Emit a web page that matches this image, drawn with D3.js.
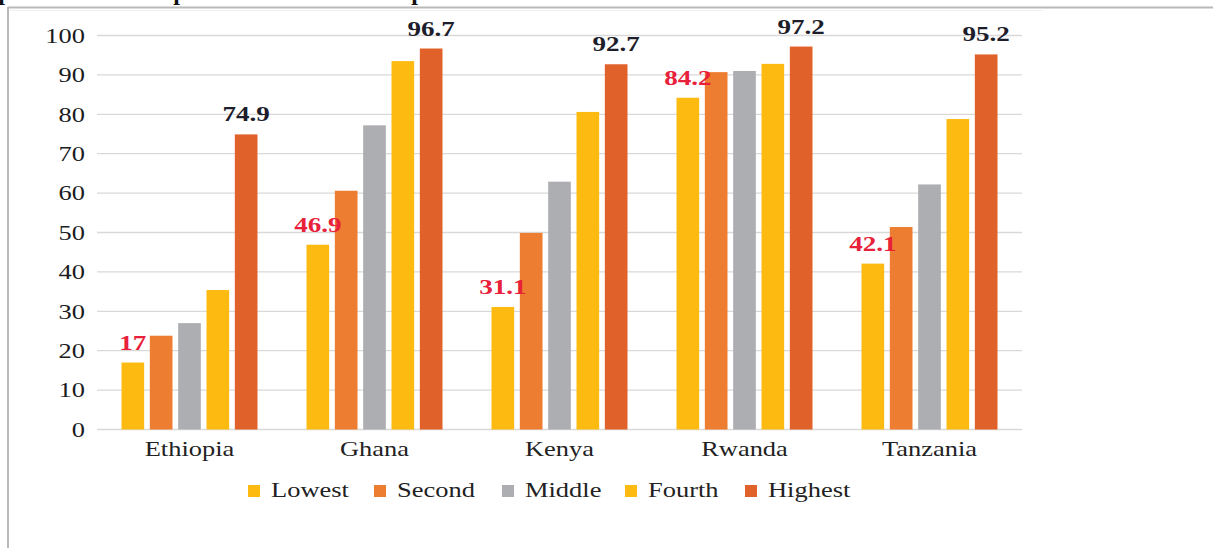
<!DOCTYPE html>
<html>
<head>
<meta charset="utf-8">
<script src="https://cdn.jsdelivr.net/npm/d3@7"></script>
<style>
  html, body { margin: 0; padding: 0; background: #fff; }
  svg { display: block; }
  text { font-family: "Liberation Serif", "Times New Roman", serif; }
</style>
</head>
<body>
<svg id="chart" width="1213" height="548"></svg>
<script>
// ---- data ----
const categories = ["Ethiopia", "Ghana", "Kenya", "Rwanda", "Tanzania"];
const seriesNames = ["Lowest", "Second", "Middle", "Fourth", "Highest"];
const lowest  = [17, 46.9, 31.1, 84.2, 42.1];
const second  = [23.8, 60.6, 49.9, 90.7, 51.4];
const middle  = [27.0, 77.2, 62.9, 91.0, 62.2];
const fourth  = [35.4, 93.5, 80.6, 92.8, 78.8];
const highest = [74.9, 96.7, 92.7, 97.2, 95.2];
const yTicks  = [0, 10, 20, 30, 40, 50, 60, 70, 80, 90, 100];
const seriesColors = ["#FDBB12", "#ED7D31", "#ADAEB1", "#FDBB12", "#E0622A"];

const seriesValues = [lowest, second, middle, fourth, highest];
const SX = 1.26; // horizontal stretch of the reference text

const svg = d3.select("#chart");

// frame around the picture
svg.append("line").attr("x1", 8).attr("x2", 1213).attr("y1", 7.5).attr("y2", 7.5)
  .attr("stroke", "#b9b9b9").attr("stroke-width", 2);
svg.append("line").attr("x1", 8).attr("x2", 8).attr("y1", 7).attr("y2", 548)
  .attr("stroke", "#b9b9b9").attr("stroke-width", 2);
svg.append("line").attr("x1", 10).attr("x2", 1043).attr("y1", 10.5).attr("y2", 10.5)
  .attr("stroke", "#f0f0f0").attr("stroke-width", 1);

// cut-off text fragments at the very top
[["p", 5], ["p", 180], ["p", 418]].forEach(([t, x]) => {
  svg.append("text").attr("x", x).attr("y", -0.5).attr("text-anchor", "middle")
    .attr("font-size", 24).attr("font-weight", "bold").attr("fill", "#111").text(t);
});

// scales
const x0 = d3.scaleBand().domain(categories).range([97, 1022]).padding(0);
const x1 = d3.scaleBand().domain(seriesNames)
  .range([24.5, x0.bandwidth() - 24.5]).paddingInner(0.2).paddingOuter(0);
const y = d3.scaleLinear().domain([0, 100]).range([429.5, 35.5]);

// gridlines
svg.append("g").selectAll("line").data(yTicks).join("line")
  .attr("x1", 97).attr("x2", 1022)
  .attr("y1", d => y(d)).attr("y2", d => y(d))
  .attr("stroke", "#d9d9d9").attr("stroke-width", 1.3);

// y tick labels
svg.append("g").selectAll("text").data(yTicks).join("text")
  .attr("transform", d => `translate(85,${y(d)}) scale(${SX},1)`)
  .attr("text-anchor", "end").attr("dy", "0.35em")
  .attr("font-size", 21).attr("fill", "#1b1b22")
  .text(d => d);

// bars
const groups = svg.append("g").selectAll("g").data(categories).join("g")
  .attr("transform", d => `translate(${x0(d)},0)`);
groups.selectAll("rect")
  .data((c, ci) => seriesNames.map((s, si) => ({ s, si, v: seriesValues[si][ci] })))
  .join("rect")
  .attr("x", d => x1(d.s))
  .attr("width", x1.bandwidth())
  .attr("y", d => y(d.v))
  .attr("height", d => y(0) - y(d.v))
  .attr("fill", d => seriesColors[d.si]);

// value labels (lowest in red, highest in dark)
groups.each(function (c, ci) {
  const g = d3.select(this);
  [[0, "#E8203A"], [4, "#1d1d2b"]].forEach(([si, col]) => {
    const v = seriesValues[si][ci];
    g.append("text")
      .attr("transform", `translate(${x1(seriesNames[si]) + x1.bandwidth() / 2},${y(v) - 13}) scale(${SX},1)`)
      .attr("text-anchor", "middle")
      .attr("font-size", 21.5).attr("font-weight", "bold").attr("fill", col)
      .text(d3.format("")(v));
  });
});

// category labels
svg.append("g").selectAll("text").data(categories).join("text")
  .attr("transform", d => `translate(${x0(d) + x0.bandwidth() / 2},456) scale(${SX},1)`)
  .attr("text-anchor", "middle")
  .attr("font-size", 21).attr("fill", "#222")
  .text(d => d);

// legend
const legend = svg.append("g");
const legendStarts = [248, 374, 502, 625, 745];
seriesNames.forEach((s, i) => {
  const lx = legendStarts[i];
  legend.append("rect").attr("x", lx).attr("y", 485).attr("width", 12).attr("height", 12)
    .attr("fill", seriesColors[i]);
  legend.append("text")
    .attr("transform", `translate(${lx + 23},497) scale(${SX},1)`)
    .attr("font-size", 21).attr("fill", "#222").text(s);
});
</script>
</body>
</html>
